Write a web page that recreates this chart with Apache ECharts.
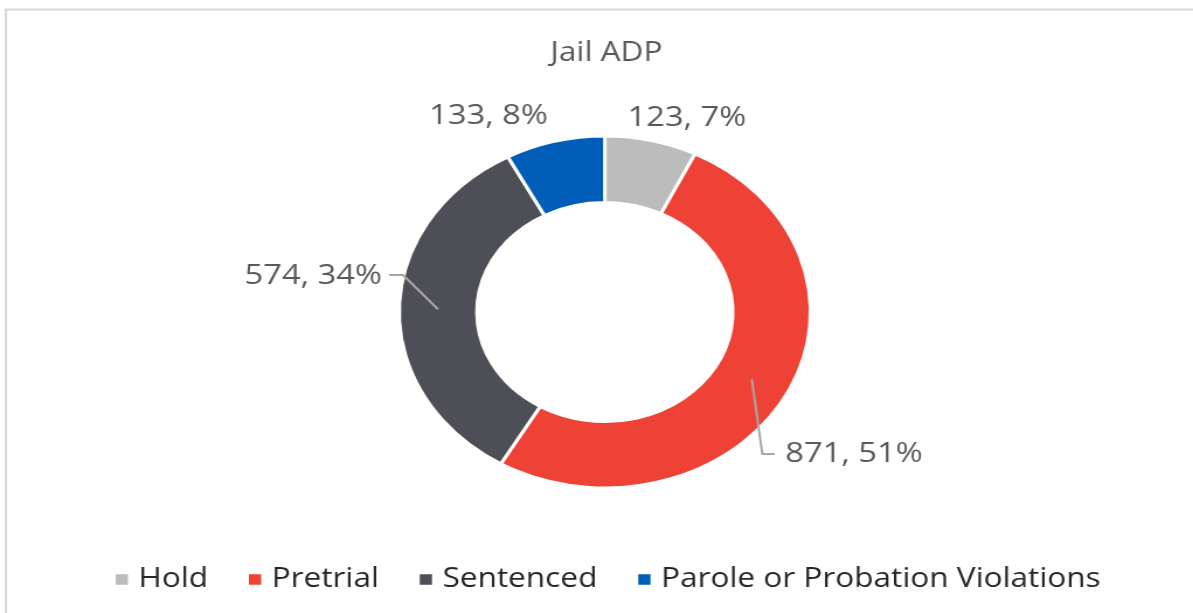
<!DOCTYPE html>
<html>
<head>
<meta charset="utf-8">
<script src="https://cdn.jsdelivr.net/npm/echarts@6/dist/echarts.min.js"></script>
<style>
  html, body { margin: 0; padding: 0; background: #fff; overflow: hidden; }
  #wrap { width: 1021px; height: 613px; transform: scaleX(1.1685); transform-origin: 0 0; }
  #chart { width: 1021px; height: 613px; }
</style>
</head>
<body>
<div id="wrap"><div id="chart"></div></div>
<script>
// ---- data ----
const titleText = 'Jail ADP';
const categories = ['Hold', 'Pretrial', 'Sentenced', 'Parole or Probation Violations'];
const values = [123, 871, 574, 133];
const colors = ['#BCBCBC', '#EE4237', '#4E4E56', '#005EB8'];

// ---- layout (not data) ----
const CX = 517.6, CY = 312, R_OUT = 176, R_IN = 109.5;
// label anchor per slice: [x, y, align]
const labelAnchors = [
  [537, 118, 'left'],
  [672, 454, 'left'],
  [327, 276, 'right'],
  [469, 116, 'right']
];
const total = values.reduce((a, b) => a + b, 0);
function midAngle(i) {
  let before = 0;
  for (let k = 0; k < i; k++) before += values[k];
  return ((before + values[i] / 2) / total) * 2 * Math.PI; // clockwise from 12 o'clock
}
function ringPoint(i, r) {
  const a = midAngle(i);
  return [CX + r * Math.sin(a), CY - r * Math.cos(a)];
}

const chart = echarts.init(document.getElementById('chart'), null, { renderer: 'canvas' });
const FONT = '"Open Sans", "Noto Sans", sans-serif';

const basePie = {
  type: 'pie',
  center: [CX, CY],
  radius: [R_IN, R_OUT],
  startAngle: 90,
  clockwise: true,
  avoidLabelOverlap: false,
  emphasis: { disabled: true },
  silent: true
};

chart.setOption({
  animation: false,
  color: colors,
  graphic: [{
    type: 'rect',
    shape: { x: 5, y: 9.5, width: 1200, height: 800 },
    style: { fill: 'none', stroke: '#D9D9D9', lineWidth: 2.2 },
    silent: true
  }],
  title: {
    text: titleText,
    left: 514,
    textAlign: 'center',
    top: 35,
    textStyle: { fontFamily: FONT, fontSize: 27, fontWeight: 'normal', color: '#595959' }
  },
  legend: {
    data: categories.map((n, i) => ({ name: n, itemStyle: { color: colors[i] } })),
    left: 92,
    top: 561,
    icon: 'rect',
    itemWidth: 12.5,
    itemHeight: 12.5,
    itemGap: 33,
    textStyle: { fontFamily: FONT, fontSize: 27, color: '#262626', padding: [0, 0, 0, 3] }
  },
  series: [
    Object.assign({}, basePie, {
      name: 'rings',
      itemStyle: { borderColor: '#FFFFFF', borderWidth: 3 },
      label: { show: false },
      labelLine: { show: false },
      data: categories.map((name, i) => ({ name: name, value: values[i], itemStyle: { color: colors[i] } }))
    }),
    Object.assign({}, basePie, {
      name: 'labels',
      z: 5,
      itemStyle: { color: 'rgba(0,0,0,0)', borderWidth: 0 },
      label: {
        show: true,
        position: 'outside',
        fontFamily: FONT,
        fontSize: 28,
        color: '#595959',
        formatter: p => p.value + ', ' + Math.round(p.percent) + '%'
      },
      labelLine: { show: true, lineStyle: { color: '#A6A6A6', width: 2 } },
      labelLayout: function (params) {
        const i = params.dataIndex;
        const [x, y, align] = labelAnchors[i];
        const out = { x: x, y: y, align: align, verticalAlign: 'middle' };
        if (i === 1) {
          const s = ringPoint(i, (R_IN + R_OUT) / 2);
          out.labelLinePoints = [s, [s[0] + 9, y], [x - 9, y]];
        } else if (i === 2) {
          const s = ringPoint(i, (R_IN + R_OUT) / 2);
          out.labelLinePoints = [s, [s[0] - 30, y - 1], [x + 6, y - 1]];
        }
        return out;
      },
      data: categories.map((name, i) => ({
        name: name,
        value: values[i],
        labelLine: { show: i === 1 || i === 2 }
      }))
    })
  ]
});
</script>
</body>
</html>
